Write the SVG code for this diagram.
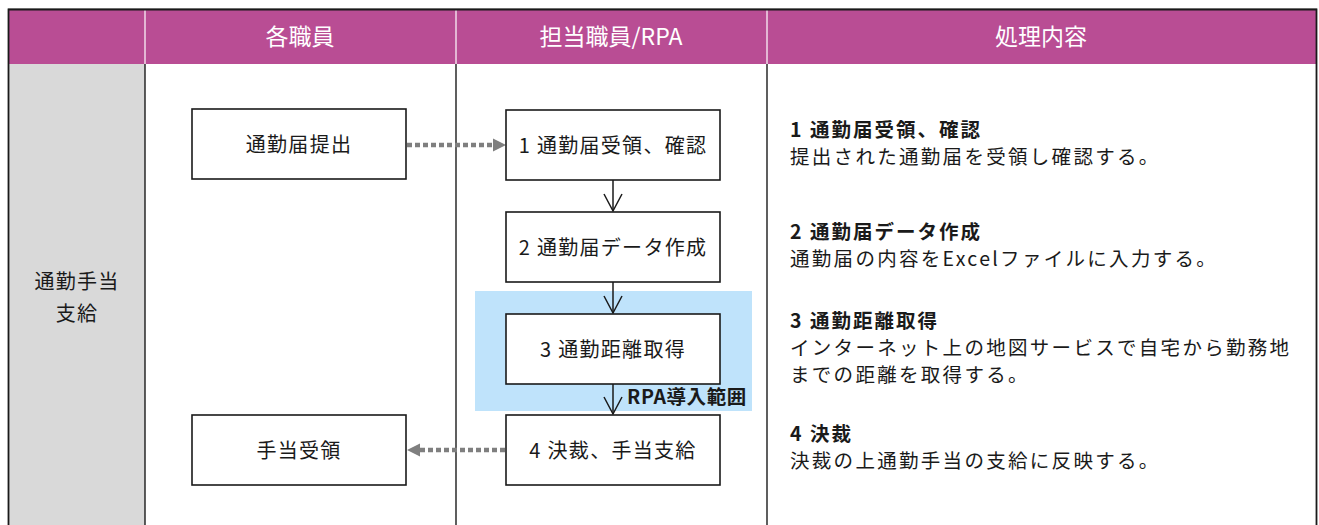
<svg xmlns="http://www.w3.org/2000/svg" width="1319" height="525" viewBox="0 0 1319 525">
<defs>
<style>
text{font-family:"Noto Sans CJK JP","Noto Sans",sans-serif;fill:#1a1a1a}
.hd{font-size:23px;fill:#ffffff;text-anchor:middle}
.nd{font-size:20px;letter-spacing:1.3px;text-anchor:middle}
.tt{font-size:19.5px;font-weight:bold;letter-spacing:2px}
.ds{font-size:19.5px;letter-spacing:2.3px}
.box{fill:#ffffff;stroke:#1a1a1a;stroke-width:1.6}
.ln{stroke:#1a1a1a;stroke-width:1.4;fill:none}
.dot{stroke:#7f7f7f;stroke-width:4.5;stroke-dasharray:5 3;fill:none}
.arr{stroke:#1a1a1a;stroke-width:1.5;fill:none}
</style>
</defs>
<g id="frame">
<rect x="0" y="0" width="1319" height="525" fill="#ffffff"/>
<line x1="8" y1="8.5" x2="1317" y2="8.5" stroke="#bfbfbf" stroke-width="1"/>
<rect x="9" y="10" width="1307" height="54" fill="#b94d94"/>
<rect x="9" y="64" width="136" height="470" fill="#d9d9d9"/>
<line x1="145" y1="10" x2="145" y2="64" stroke="#ffffff" stroke-width="1.2"/>
<line x1="456" y1="10" x2="456" y2="64" stroke="#ffffff" stroke-width="1.2"/>
<line x1="767" y1="10" x2="767" y2="64" stroke="#ffffff" stroke-width="1.2"/>
<line class="ln" x1="145" y1="64" x2="145" y2="525"/>
<line class="ln" x1="456" y1="64" x2="456" y2="525"/>
<line class="ln" x1="767" y1="64" x2="767" y2="525"/>
<path d="M8.5,525 V9.5 H1316.5 V525" fill="none" stroke="#1a1a1a" stroke-width="1.8"/>
</g>
<g id="headers">
<text class="hd" x="300" y="45">各職員</text>
<text class="hd" x="611" y="45">担当職員/RPA</text>
<text class="hd" x="1041" y="45">処理内容</text>
</g>
<g id="lane-label">
<text class="nd" x="77" y="289">通勤手当</text>
<text class="nd" x="77" y="321">支給</text>
</g>
<g id="rpa-range">
<rect x="475" y="291" width="277" height="120" fill="#bfe3fb"/>
<text x="627" y="404" style="font-size:19.5px;font-weight:bold;letter-spacing:0.6px">RPA導入範囲</text>
</g>
<g id="connectors">
<line class="dot" x1="407" y1="145" x2="494" y2="145"/>
<polygon points="506,145 493,138.5 493,151.5" fill="#7f7f7f"/>
<line class="dot" x1="505" y1="450" x2="419" y2="450"/>
<polygon points="407,450 420,443.5 420,456.5" fill="#7f7f7f"/>
<line class="arr" x1="613" y1="180" x2="613" y2="211"/>
<polyline class="arr" points="604,194 613,211 622,194"/>
<line class="arr" x1="613" y1="282" x2="613" y2="313"/>
<polyline class="arr" points="604,296 613,313 622,296"/>
<line class="arr" x1="613" y1="384" x2="613" y2="414"/>
<polyline class="arr" points="604,397 613,414 622,397"/>
</g>
<g id="node-submit">
<rect class="box" x="192" y="109" width="214" height="70"/>
<text class="nd" x="299" y="152">通勤届提出</text>
</g>
<g id="node-receive">
<rect class="box" x="192" y="415" width="214" height="70"/>
<text class="nd" x="299" y="458">手当受領</text>
</g>
<g id="node-1">
<rect class="box" x="506" y="110" width="214" height="70"/>
<text class="nd" x="613" y="153">1 通勤届受領、確認</text>
</g>
<g id="node-2">
<rect class="box" x="506" y="212" width="214" height="70"/>
<text class="nd" x="613" y="255">2 通勤届データ作成</text>
</g>
<g id="node-3">
<rect class="box" x="506" y="314" width="214" height="70"/>
<text class="nd" x="613" y="357">3 通勤距離取得</text>
</g>
<g id="node-4">
<rect class="box" x="506" y="415" width="214" height="70"/>
<text class="nd" x="613" y="458">4 決裁、手当支給</text>
</g>
<g id="descriptions">
<text class="tt" x="790" y="137">1 通勤届受領、確認</text>
<text class="ds" x="790" y="164">提出された通勤届を受領し確認する。</text>
<text class="tt" x="790" y="239">2 通勤届データ作成</text>
<text class="ds" x="790" y="266">通勤届の内容をExcelファイルに入力する。</text>
<text class="tt" x="790" y="328">3 通勤距離取得</text>
<text class="ds" x="790" y="355">インターネット上の地図サービスで自宅から勤務地</text>
<text class="ds" x="790" y="382">までの距離を取得する。</text>
<text class="tt" x="790" y="441">4 決裁</text>
<text class="ds" x="790" y="468">決裁の上通勤手当の支給に反映する。</text>
</g>
</svg>
